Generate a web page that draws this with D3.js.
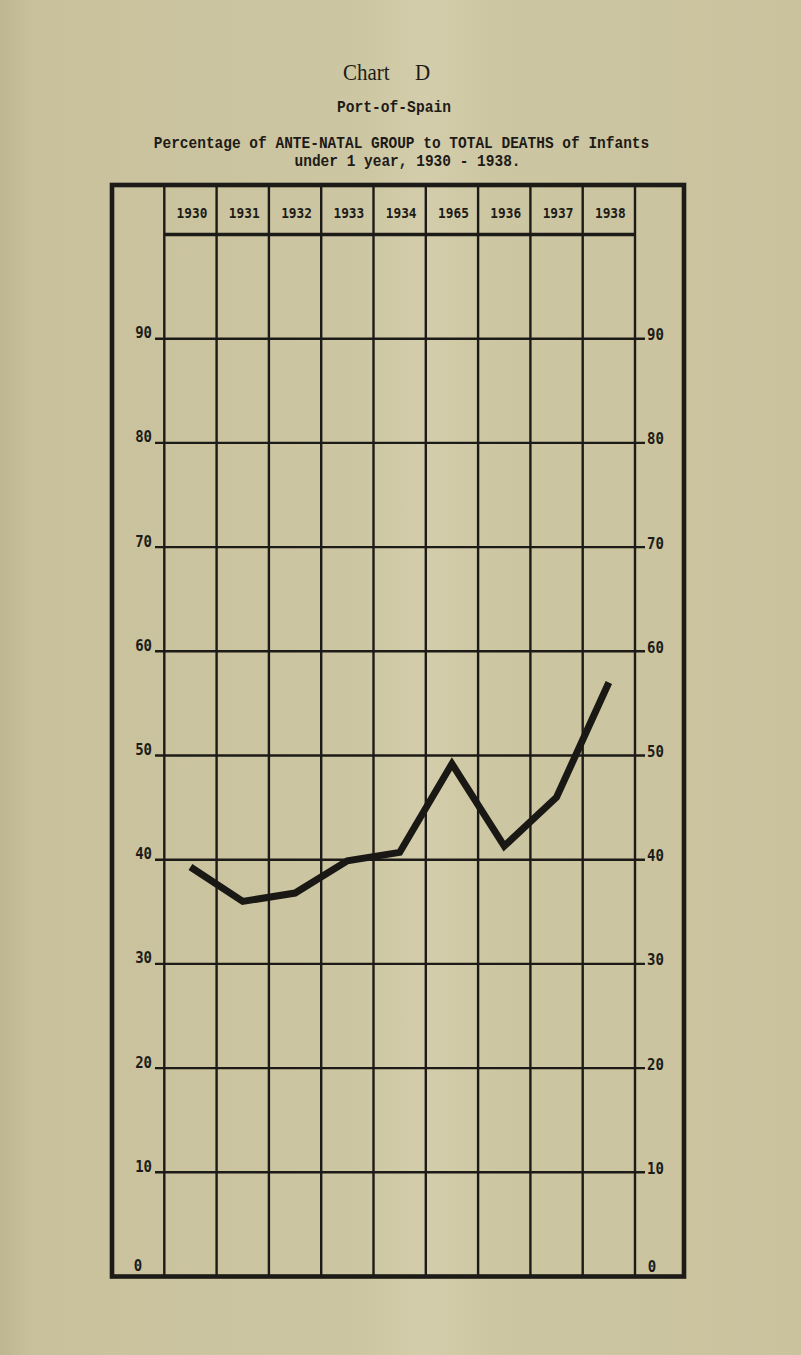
<!DOCTYPE html>
<html>
<head>
<meta charset="utf-8">
<script src="https://cdn.jsdelivr.net/npm/d3@7"></script>
<style>
  html, body { margin: 0; padding: 0; background: #cbc4a0; }
  svg { display: block; }
</style>
</head>
<body>
<script>
// ---- data ----
const years = ["1930", "1931", "1932", "1933", "1934", "1935", "1936", "1937", "1938"];
const yearLabels = ["1930", "1931", "1932", "1933", "1934", "1965", "1936", "1937", "1938"];
const values = [39.3, 36.0, 36.8, 39.9, 40.7, 49.2, 41.3, 46.0, 57.0];
const gridTicks = [10, 20, 30, 40, 50, 60, 70, 80, 90];
const leftTickLabels = ["10", "20", "30", "40", "50", "60", "70", "80", "90"];
const rightTickLabels = ["10", "20", "30", "40", "50", "60", "70", "80", "90"];
const zeroLabel = "0";

const W = 801, H = 1355;
const ink = "#1d1b17";

const svg = d3.select("body").append("svg")
  .attr("width", W).attr("height", H);

// paper background with subtle fold shading
const defs = svg.append("defs");
const grad = defs.append("linearGradient").attr("id", "paper")
  .attr("x1", "0").attr("x2", "1").attr("y1", "0").attr("y2", "0");
grad.append("stop").attr("offset", "0").attr("stop-color", "#bdb690");
grad.append("stop").attr("offset", "0.04").attr("stop-color", "#c8c19c");
grad.append("stop").attr("offset", "0.45").attr("stop-color", "#cdc6a2");
grad.append("stop").attr("offset", "0.53").attr("stop-color", "#d4cdab");
grad.append("stop").attr("offset", "0.62").attr("stop-color", "#cdc6a2");
grad.append("stop").attr("offset", "1").attr("stop-color", "#c9c29d");
svg.append("rect").attr("width", W).attr("height", H).attr("fill", "url(#paper)");

// ---- scales ----
const x = d3.scaleBand().domain(years).range([164.3, 635]);
const y = d3.scaleLinear().domain([0, 100]).range([1276.5, 234.5]);

const frame = { left: 112, right: 684, top: 185, bottom: y(0) };

// helper: text placed by translate with slight vertical stretch (typewriter look)
function stretched(sel, tx, ty, sy) {
  return sel.attr("transform", `translate(${tx},${ty}) scale(1,${sy})`);
}

// ---- titles ----
const title = svg.append("text")
  .attr("transform", "translate(0,80) scale(1,1.12)")
  .attr("font-family", "'Liberation Serif', serif")
  .attr("font-size", 21)
  .attr("fill", ink);
title.append("tspan").attr("x", 343).text("Chart ");
title.append("tspan").attr("x", 415).text("D");

const mono = "'Liberation Mono', 'DejaVu Sans Mono', monospace";
stretched(svg.append("text"), 394, 111.5, 1.18)
  .attr("text-anchor", "middle")
  .attr("font-family", mono).attr("font-weight", "bold")
  .attr("font-size", 14.6).attr("fill", ink)
  .text("Port-of-Spain");

stretched(svg.append("text"), 401.5, 147.5, 1.18)
  .attr("text-anchor", "middle")
  .attr("font-family", mono).attr("font-weight", "bold")
  .attr("font-size", 14.5).attr("fill", ink)
  .text("Percentage of ANTE-NATAL GROUP to TOTAL DEATHS of Infants");

stretched(svg.append("text"), 407.5, 166, 1.18)
  .attr("text-anchor", "middle")
  .attr("font-family", mono).attr("font-weight", "bold")
  .attr("font-size", 14.5).attr("fill", ink)
  .text("under 1 year, 1930 - 1938.");

// ---- grid ----
const g = svg.append("g");

// horizontal grid lines with ticks
g.selectAll("line.h").data(gridTicks).join("line")
  .attr("class", "h")
  .attr("x1", 155).attr("x2", 645)
  .attr("y1", d => y(d)).attr("y2", d => y(d))
  .attr("stroke", ink).attr("stroke-width", 2.4);

// header bottom line (100)
g.append("line")
  .attr("x1", x.range()[0]).attr("x2", x.range()[1])
  .attr("y1", y(100)).attr("y2", y(100))
  .attr("stroke", ink).attr("stroke-width", 3.4);

// vertical column lines
const edges = years.map(d => x(d)).concat([x.range()[1]]);
g.selectAll("line.v").data(edges).join("line")
  .attr("class", "v")
  .attr("x1", d => d).attr("x2", d => d)
  .attr("y1", frame.top).attr("y2", frame.bottom)
  .attr("stroke", ink).attr("stroke-width", 2.4);

// outer frame
g.append("rect")
  .attr("x", frame.left).attr("y", frame.top)
  .attr("width", frame.right - frame.left)
  .attr("height", frame.bottom - frame.top)
  .attr("fill", "none").attr("stroke", ink).attr("stroke-width", 4.6);

// year labels
g.selectAll("text.yr").data(years).join("text")
  .attr("class", "yr")
  .attr("transform", d => `translate(${x(d) + x.bandwidth() / 2 + 1.5},217.5) scale(1,1.15)`)
  .attr("text-anchor", "middle")
  .attr("font-family", "'DejaVu Sans Mono', monospace")
  .attr("font-size", 12.8)
  .attr("font-weight", 600)
  .attr("fill", ink)
  .text((d, i) => yearLabels[i]);

// left axis labels
const axisFont = "'DejaVu Sans Mono', monospace";
g.selectAll("text.lt").data(gridTicks).join("text")
  .attr("class", "lt")
  .attr("transform", d => `translate(152,${y(d) - 0.5}) scale(1,1.1)`)
  .attr("text-anchor", "end")
  .attr("font-family", axisFont).attr("font-weight", "bold")
  .attr("font-size", 14).attr("fill", ink)
  .text((d, i) => leftTickLabels[i]);

// right axis labels
g.selectAll("text.rt").data(gridTicks).join("text")
  .attr("class", "rt")
  .attr("transform", d => `translate(647,${y(d) + 1.5}) scale(1,1.1)`)
  .attr("text-anchor", "start")
  .attr("font-family", axisFont).attr("font-weight", "bold")
  .attr("font-size", 14).attr("fill", ink)
  .text((d, i) => rightTickLabels[i]);

// zero labels
g.append("text")
  .attr("transform", `translate(138,${y(0) - 5.5}) scale(1,1.1)`)
  .attr("text-anchor", "middle")
  .attr("font-family", axisFont).attr("font-weight", "bold")
  .attr("font-size", 14).attr("fill", ink)
  .text(zeroLabel);
g.append("text")
  .attr("transform", `translate(652,${y(0) - 4.5}) scale(1,1.1)`)
  .attr("text-anchor", "middle")
  .attr("font-family", axisFont).attr("font-weight", "bold")
  .attr("font-size", 14).attr("fill", ink)
  .text(zeroLabel);

// ---- data line ----
const line = d3.line()
  .x((d, i) => x(years[i]) + x.bandwidth() / 2)
  .y(d => y(d));

g.append("path")
  .datum(values)
  .attr("d", line)
  .attr("fill", "none")
  .attr("stroke", "#1a1815")
  .attr("stroke-width", 7)
  .attr("stroke-linejoin", "miter")
  .attr("stroke-miterlimit", 10)
  .attr("stroke-linecap", "butt");
</script>
</body>
</html>
